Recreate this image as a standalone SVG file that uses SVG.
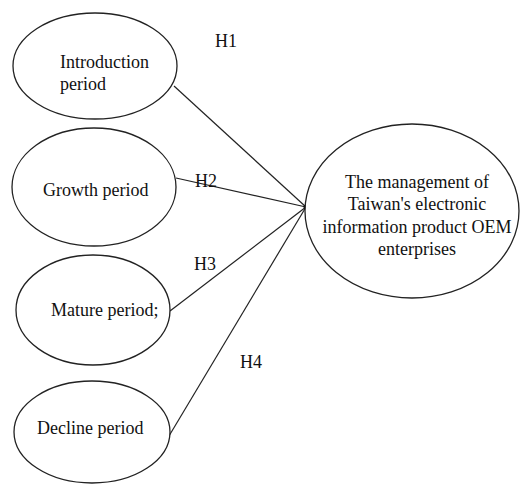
<svg xmlns="http://www.w3.org/2000/svg" width="520" height="487" viewBox="0 0 520 487">
<style>
.node ellipse{fill:#fff;stroke:#222;stroke-width:1.3}
text{font-family:"Liberation Serif","Times New Roman",serif;font-size:18px;fill:#111}
.conn line{stroke:#222;stroke-width:1.2}
</style>
<rect width="520" height="487" fill="#fff"/>
<g id="connectors" class="conn">
<line x1="174" y1="86" x2="306" y2="207"/>
<line x1="176" y1="178" x2="306" y2="207"/>
<line x1="170" y1="311" x2="306" y2="207"/>
<line x1="169" y1="436" x2="306" y2="207"/>
<circle cx="306" cy="207" r="2.5" fill="#111"/>
</g>
<g id="labels">
<text x="215" y="47">H1</text>
<text x="195" y="187">H2</text>
<text x="194" y="270">H3</text>
<text x="240" y="368">H4</text>
</g>
<g id="n1" class="node">
<ellipse cx="95" cy="66" rx="82" ry="53"/>
<text x="60" y="68" font-size="17">Introduction</text>
<text x="60" y="90" font-size="17">period</text>
</g>
<g id="n2" class="node">
<ellipse cx="94" cy="187" rx="82" ry="59"/>
<text x="43" y="196">Growth period</text>
</g>
<g id="n3" class="node">
<ellipse cx="93" cy="310" rx="77" ry="55"/>
<text x="51" y="316">Mature period;</text>
</g>
<g id="n4" class="node">
<ellipse cx="92" cy="432" rx="78" ry="51"/>
<text x="37" y="434">Decline period</text>
</g>
<g id="n5" class="node">
<ellipse cx="412" cy="211" rx="107" ry="87"/>
<text x="417" y="188" text-anchor="middle">The management of</text>
<text x="417" y="210" text-anchor="middle">Taiwan's electronic</text>
<text x="417" y="233" text-anchor="middle">information product OEM</text>
<text x="417" y="255" text-anchor="middle">enterprises</text>
</g>
</svg>
